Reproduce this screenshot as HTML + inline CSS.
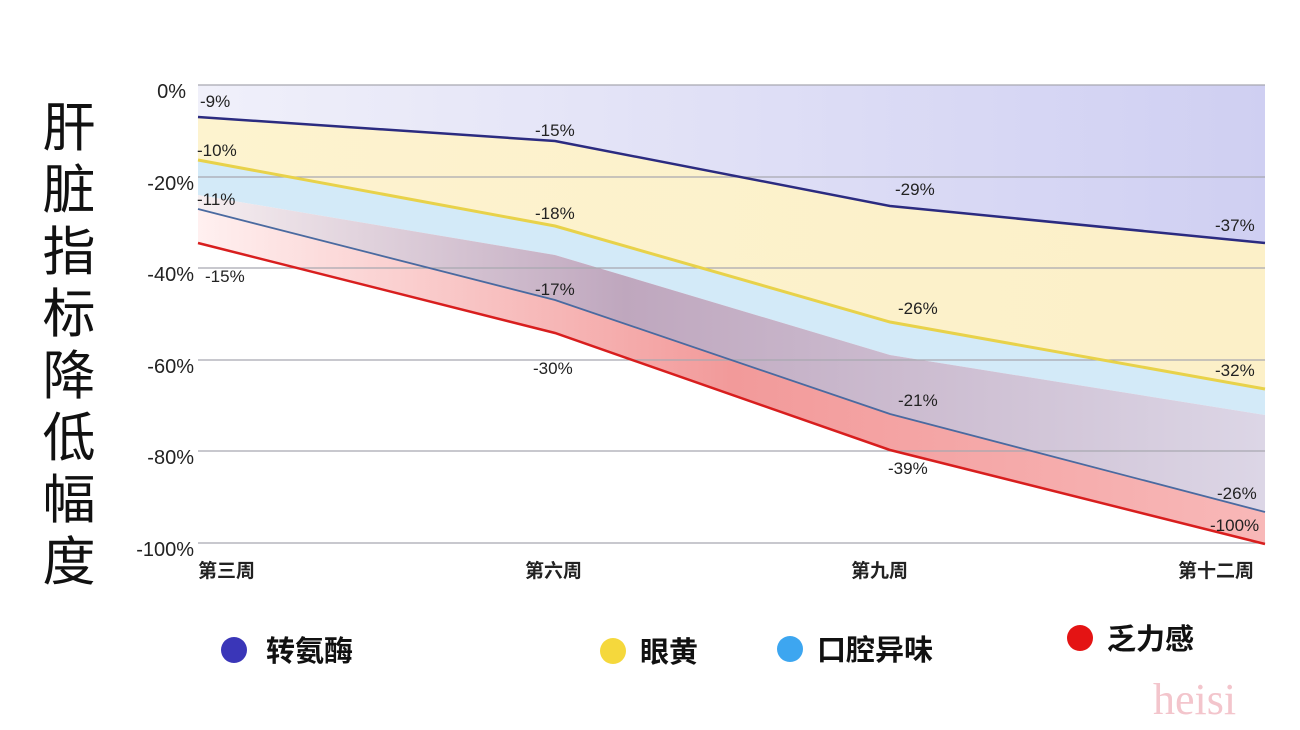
<!DOCTYPE html>
<html><head><meta charset="utf-8"><style>
body{margin:0;background:#fff;}
svg{display:block;font-family:"Liberation Sans","Noto Sans CJK SC",sans-serif;}
</style></head><body>
<svg width="1300" height="730" viewBox="0 0 1300 730">
<defs>
<linearGradient id="lav" x1="0" y1="0" x2="1" y2="0"><stop offset="0" stop-color="#f0f0fa"/><stop offset="1" stop-color="#cfcff2"/></linearGradient>
<linearGradient id="yel" x1="0" y1="0" x2="1" y2="0"><stop offset="0" stop-color="#fdf3cf"/><stop offset="1" stop-color="#fcf0c8"/></linearGradient>
<linearGradient id="mau" x1="0" y1="0" x2="1" y2="0"><stop offset="0" stop-color="#f6eef0"/><stop offset="0.4" stop-color="#bfa7be"/><stop offset="1" stop-color="#dcd6e6"/></linearGradient>
<linearGradient id="red" x1="0" y1="0" x2="1" y2="0"><stop offset="0" stop-color="#fff0f0"/><stop offset="0.5" stop-color="#f29a9a"/><stop offset="1" stop-color="#f8b8b8"/></linearGradient>
</defs>
<rect width="1300" height="730" fill="#fff"/>
<polygon points="198,85 1265,85 1265,243 890,206 555,141 198,117" fill="url(#lav)"/>
<polygon points="198,117 555,141 890,206 1265,243 1265,389 890,322 555,226 198,160" fill="url(#yel)"/>
<polygon points="198,160 555,226 890,322 1265,389 1265,415 890,355 555,255 198,195" fill="#d3eaf8"/>
<polygon points="198,195 555,255 890,355 1265,415 1265,512 890,414 555,300 198,209" fill="url(#mau)"/>
<polygon points="198,209 555,300 890,414 1265,512 1265,544 890,450 555,333 198,243" fill="url(#red)"/>
<g stroke="#a8a8b0" stroke-width="1.2">
<line x1="198" y1="85" x2="1265" y2="85"/><line x1="198" y1="177" x2="1265" y2="177"/>
<line x1="198" y1="268" x2="1265" y2="268"/><line x1="198" y1="360" x2="1265" y2="360"/>
<line x1="198" y1="451" x2="1265" y2="451"/><line x1="198" y1="543" x2="1265" y2="543"/>
</g>
<polyline points="198,117 555,141 890,206 1265,243" fill="none" stroke="#2b2b80" stroke-width="2.5"/>
<polyline points="198,160 555,226 890,322 1265,389" fill="none" stroke="#e8d24a" stroke-width="3"/>
<polyline points="198,209 555,300 890,414 1265,512" fill="none" stroke="#4a6aa0" stroke-width="1.8"/>
<polyline points="198,243 555,333 890,450 1265,544" fill="none" stroke="#d81e1e" stroke-width="2.5"/>
<g font-size="20" fill="#222" text-anchor="end">
<text x="186" y="98">0%</text><text x="194" y="190">-20%</text><text x="194" y="281">-40%</text>
<text x="194" y="373">-60%</text><text x="194" y="464">-80%</text><text x="194" y="556">-100%</text>
</g>
<g font-size="17" fill="#222">
<text x="200" y="107">-9%</text><text x="535" y="136">-15%</text><text x="895" y="195">-29%</text><text x="1215" y="231">-37%</text>
<text x="197" y="156">-10%</text><text x="535" y="219">-18%</text><text x="898" y="314">-26%</text><text x="1215" y="376">-32%</text>
<text x="197" y="205">-11%</text><text x="535" y="295">-17%</text><text x="898" y="406">-21%</text><text x="1217" y="499">-26%</text>
<text x="205" y="282">-15%</text><text x="533" y="374">-30%</text><text x="888" y="474">-39%</text><text x="1210" y="531">-100%</text>
</g>
<g font-size="19" font-weight="bold" fill="#222">
<text x="198" y="577">第三周</text><text x="525" y="577">第六周</text><text x="851" y="577">第九周</text><text x="1178" y="577">第十二周</text>
</g>
<g font-size="53" fill="#111" text-anchor="middle">
<text x="69" y="146">肝</text><text x="69" y="208">脏</text><text x="69" y="270">指</text><text x="69" y="332">标</text>
<text x="69" y="394">降</text><text x="69" y="456">低</text><text x="69" y="518">幅</text><text x="69" y="580">度</text>
</g>
<circle cx="234" cy="650" r="13" fill="#3a36b8"/><text x="266" y="661" font-size="29" font-weight="bold" fill="#111">转氨酶</text>
<circle cx="613" cy="651" r="13" fill="#f5d83c"/><text x="640" y="662" font-size="29" font-weight="bold" fill="#111">眼黄</text>
<circle cx="790" cy="649" r="13" fill="#3da6f0"/><text x="817" y="660" font-size="29" font-weight="bold" fill="#111">口腔异味</text>
<circle cx="1080" cy="638" r="13" fill="#e41414"/><text x="1107" y="649" font-size="29" font-weight="bold" fill="#111">乏力感</text>
<text x="1153" y="714" font-size="44" fill="#f3c5cc" font-family="Liberation Serif,serif">heisi</text>
</svg>
</body></html>
